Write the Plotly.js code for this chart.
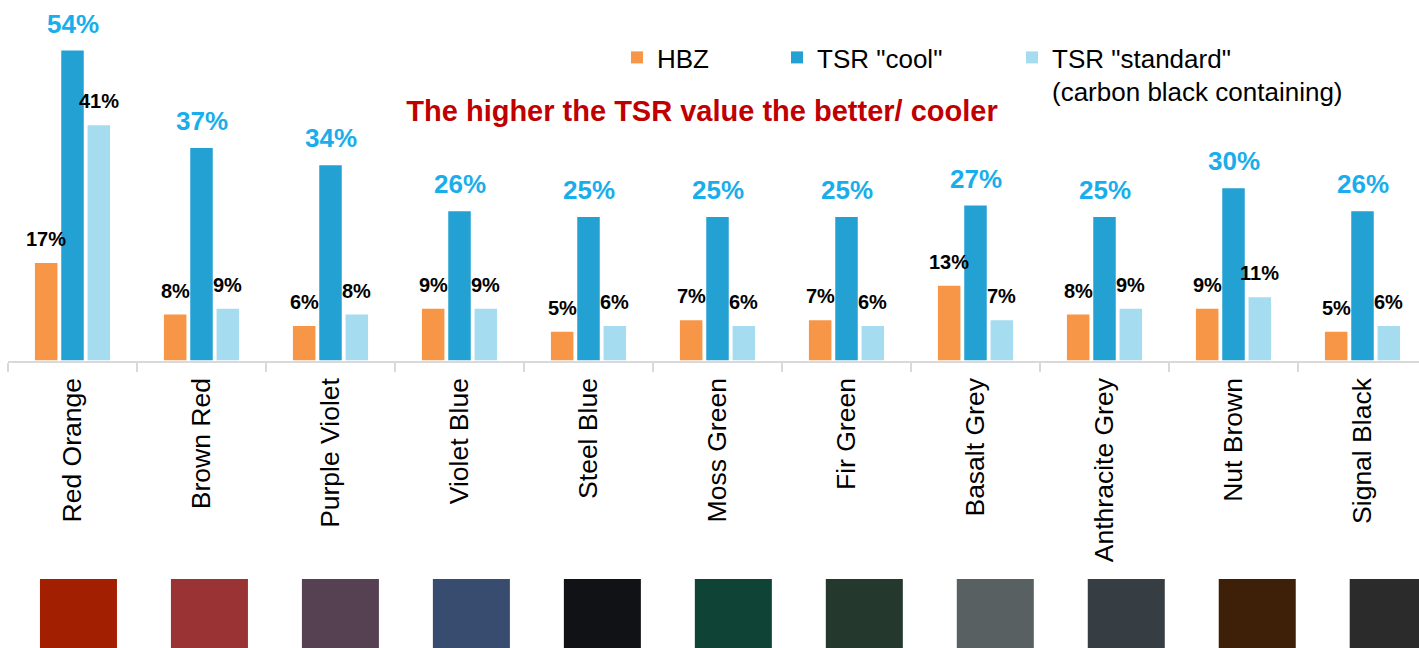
<!DOCTYPE html>
<html>
<head>
<meta charset="utf-8">
<script src="https://cdn.plot.ly/plotly-3.0.1.min.js"></script>
<style>html,body{margin:0;padding:0;background:#fff;}#chart{width:1419px;height:648px;}</style>
</head>
<body>
<div id="chart"></div>
<script>
// ---- data ----
const categories = ["Red Orange","Brown Red","Purple Violet","Violet Blue","Steel Blue","Moss Green","Fir Green","Basalt Grey","Anthracite Grey","Nut Brown","Signal Black"];
const hbz = [17, 8, 6, 9, 5, 7, 7, 13, 8, 9, 5];
const tsrCool = [54, 37, 34, 26, 25, 25, 25, 27, 25, 30, 26];
const tsrStandard = [41, 9, 8, 9, 6, 6, 6, 7, 9, 11, 6];
const swatchColors = ["#A21F02","#9A3334","#564152","#374C6E","#111216","#0F4336","#25382D","#596062","#373E43","#3E1F07","#2B2B2C"];
const swatchHeight = [1,1,1,1,1,1,1,1,1,1,1];
const seriesNames = ["HBZ", "TSR \"cool\"", "TSR \"standard\"<br>(carbon black containing)"];

// ---- styling ----
const FONT = "Liberation Sans, Arial, Helvetica, sans-serif";
const seriesColors = ["#F79646", "#23A1D3", "#A6DCEF"];
const labelColors = ["#000000", "#19AEEB", "#000000"];
const labelSizes = [20, 26, 20];
const seriesData = [hbz, tsrCool, tsrStandard];
const slotPx = 26.33;

const traces = seriesData.map((vals, k) => ({
  type: "bar",
  name: seriesNames[k],
  x: categories,
  y: vals,
  marker: {color: seriesColors[k], line: {width: 0}},
  legend: k === 0 ? "legend" : (k === 1 ? "legend2" : "legend3"),
  hoverinfo: "x+y"
}));

traces.push({
  type: "bar",
  x: categories.map((c, i) => i),
  y: swatchHeight,
  xaxis: "x2",
  yaxis: "y2",
  width: 0.588,
  marker: {color: swatchColors, line: {width: 0}},
  showlegend: false,
  hoverinfo: "skip"
});

const annotations = [];
seriesData.forEach((vals, k) => {
  vals.forEach((v, i) => {
    annotations.push({
      x: categories[i], y: v, xref: "x", yref: "y",
      text: v + "%",
      showarrow: false,
      xanchor: "center", yanchor: "bottom",
      xshift: (k - 1) * slotPx,
      yshift: k === 1 ? 10 : 11,
      font: {family: FONT, size: labelSizes[k], color: labelColors[k], weight: 700}
    });
  });
});

const legendBase = {
  orientation: "v", xanchor: "left", yanchor: "top",
  bgcolor: "rgba(0,0,0,0)", borderwidth: 0,
  font: {family: FONT, size: 26, color: "#000"},
  valign: "top", tracegroupgap: 0
};

const layout = {
  width: 1419, height: 648,
  margin: {l: 0, r: 0, t: 0, b: 0, autoexpand: false},
  paper_bgcolor: "#ffffff", plot_bgcolor: "#ffffff",
  barmode: "group", bargap: 0.388, bargroupgap: 0.145,
  showlegend: true,
  title: {
    text: "The higher the TSR value the better/ cooler",
    font: {family: FONT, size: 29, color: "#C00000", weight: 700},
    xref: "container", yref: "container",
    x: 702/1419, y: 1 - 111/648, xanchor: "center", yanchor: "middle"
  },
  xaxis: {
    domain: [8/1419, 1], range: [-0.5, 10.438],
    type: "category",
    showgrid: false, zeroline: false,
    showline: true, linecolor: "#D9D9D9", linewidth: 2,
    ticks: "outside", tickson: "boundaries", ticklen: 9, tickwidth: 2, tickcolor: "#D9D9D9",
    tickangle: -90, ticklabelstandoff: 5,
    tickfont: {family: FONT, size: 26.5, color: "#000"},
    automargin: false, fixedrange: true
  },
  yaxis: {
    domain: [(648 - 360.5)/648, 1], range: [0, 62.8],
    visible: false, showgrid: false, zeroline: false, fixedrange: true
  },
  xaxis2: {
    domain: [8/1419, 1], range: [-0.538, 10.235], anchor: "y2",
    visible: false, showgrid: false, zeroline: false, fixedrange: true
  },
  yaxis2: {
    domain: [0, 69/648], range: [0, 1], anchor: "x2",
    visible: false, showgrid: false, zeroline: false, fixedrange: true
  },
  legend: Object.assign({}, legendBase, {x: 617/1419, y: 1 - 34/648}),
  legend2: Object.assign({}, legendBase, {x: 777/1419, y: 1 - 34/648}),
  legend3: Object.assign({}, legendBase, {x: 1012/1419, y: 1 - 34/648}),
  annotations: annotations
};

Plotly.newPlot("chart", traces, layout, {displayModeBar: false, staticPlot: true});
</script>
</body>
</html>
